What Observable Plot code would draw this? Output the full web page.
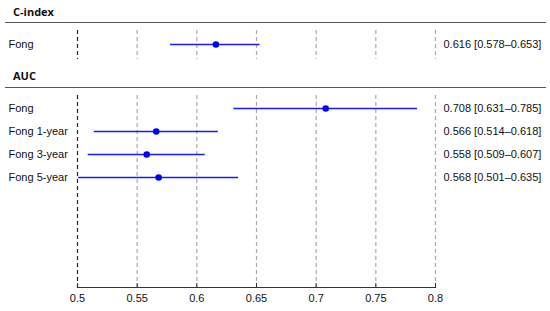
<!DOCTYPE html>
<html>
<head>
<meta charset="utf-8">
<script src="https://cdn.jsdelivr.net/npm/d3@7"></script>
<script src="https://cdn.jsdelivr.net/npm/@observablehq/plot@0.6"></script>
<style>
  html, body { margin: 0; padding: 0; background: #fff; }
  #chart { width: 550px; height: 311px; position: relative; overflow: hidden; }
  .hdr { font-family: "Open Sans", sans-serif; font-weight: bold; font-size: 11px; color: #111;
         margin-left: 5px; width: 541px; border-bottom: 1.3px solid #555; box-sizing: border-box; padding-left: 8px; }
  svg { display: block; }
</style>
</head>
<body>
<div id="chart"></div>
<script>
// ---- data ----
const cLabels = ["Fong"];
const cEst = [0.616];
const cLow = [0.578];
const cHigh = [0.653];
const cText = ["0.616 [0.578\u20130.653]"];

const aLabels = ["Fong", "Fong 1-year", "Fong 3-year", "Fong 5-year"];
const aEst = [0.708, 0.566, 0.558, 0.568];
const aLow = [0.631, 0.514, 0.509, 0.501];
const aHigh = [0.785, 0.618, 0.607, 0.635];
const aText = ["0.708 [0.631\u20130.785]", "0.566 [0.514\u20130.618]", "0.558 [0.509\u20130.607]", "0.568 [0.501\u20130.635]"];

const xTicks = [0.5, 0.55, 0.6, 0.65, 0.7, 0.75, 0.8];
const xTickLabels = ["0.5", "0.55", "0.6", "0.65", "0.7", "0.75", "0.8"];
const refLine = 0.5;

const cRows = cLabels.map((l, i) => ({label: l, est: cEst[i], lo: cLow[i], hi: cHigh[i], txt: cText[i]}));
const aRows = aLabels.map((l, i) => ({label: l, est: aEst[i], lo: aLow[i], hi: aHigh[i], txt: aText[i]}));

const font = "'Liberation Sans', Arial, sans-serif";
const W = 550, ML = 77, MR = 115;

function panel(rows, labels, {height, marginTop, marginBottom, yRange, axis}) {
  const frameH = height - marginTop - marginBottom;
  const marks = [
    Plot.ruleX(xTicks.filter(t => t !== refLine), {stroke: "#aaa", strokeWidth: 1.2, strokeDasharray: "4,3"}),
    Plot.ruleX([refLine], {stroke: "#222", strokeWidth: 1.2, strokeDasharray: "4,3"}),
    Plot.ruleY(rows, {y: "label", x1: "lo", x2: "hi", stroke: "#1a1aff", strokeWidth: 1.3}),
    Plot.dot(rows, {y: "label", x: "est", r: 3.3, fill: "#0000ff", stroke: "none"}),
    Plot.text(rows, {y: "label", text: "label", frameAnchor: "left", textAnchor: "start", dx: -(ML - 8), fontSize: 11, fill: "#111"}),
    Plot.text(rows, {y: "label", text: "txt", frameAnchor: "right", textAnchor: "start", dx: 8, fontSize: 11, fill: "#111"})
  ];
  if (axis) {
    marks.push(Plot.ruleX(xTicks, {stroke: "#333", strokeWidth: 1, insetTop: frameH - 4}));
    marks.push(Plot.axisX(xTicks, {tickSize: 0, tickPadding: 7, tickFormat: (d) => xTickLabels[xTicks.indexOf(d)], fontSize: 11, fill: "#111"}));
    marks.push(Plot.frame({anchor: "bottom", stroke: "#333", strokeWidth: 1.2}));
  }
  return Plot.plot({
    width: W, height, marginLeft: ML, marginRight: MR, marginTop, marginBottom,
    style: {fontFamily: font, background: "white", overflow: "visible"},
    x: {domain: [0.5, 0.8], axis: axis ? undefined : null},
    y: {type: "point", domain: labels, range: yRange, padding: 0, axis: null},
    marks
  });
}

const chart = document.getElementById("chart");

const h1 = document.createElement("div");
h1.className = "hdr"; h1.textContent = "C-index";
h1.style.height = "23px"; h1.style.lineHeight = "24px";
chart.appendChild(h1);

chart.appendChild(panel(cRows, cLabels, {height: 41, marginTop: 7, marginBottom: 5, yRange: [21, 21], axis: false}));

const h2 = document.createElement("div");
h2.className = "hdr"; h2.textContent = "AUC";
h2.style.height = "24px"; h2.style.lineHeight = "24px";
chart.appendChild(h2);

chart.appendChild(panel(aRows, aLabels, {height: 223, marginTop: 7, marginBottom: 24, yRange: [19, 89], axis: true}));
</script>
</body>
</html>
